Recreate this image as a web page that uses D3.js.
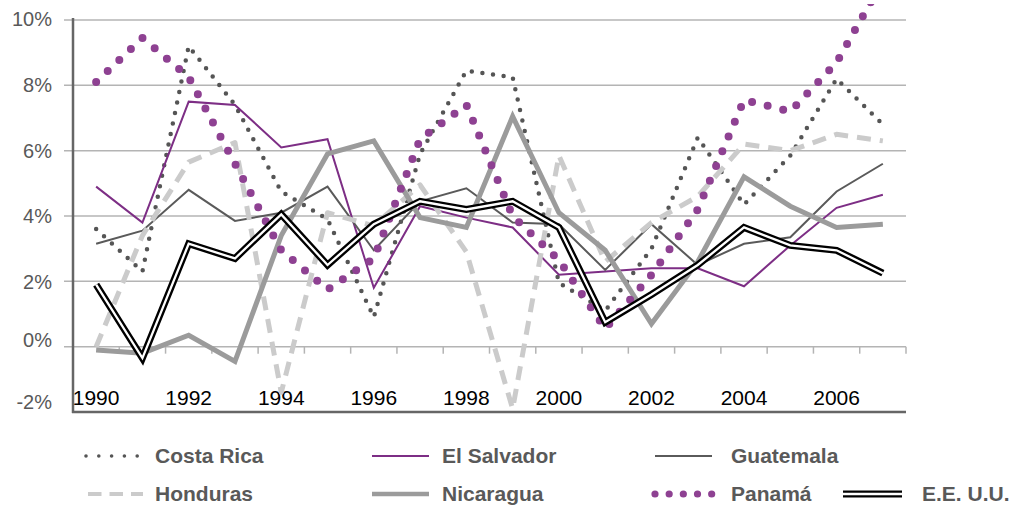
<!DOCTYPE html>
<html>
<head>
<meta charset="utf-8">
<script src="https://cdn.jsdelivr.net/npm/d3@7"></script>
<style>
  html, body { margin: 0; padding: 0; background: #fff; }
  svg { display: block; font-family: "Liberation Sans", Arial, sans-serif; }
</style>
</head>
<body>
<svg id="chart" width="1012" height="506"></svg>
<script>
// ---- data ----
const years = [1990,1991,1992,1993,1994,1995,1996,1997,1998,1999,2000,2001,2002,2003,2004,2005,2006,2007];
const yearLabels = [1990,1992,1994,1996,1998,2000,2002,2004,2006];
const yTicks = [-2,0,2,4,6,8,10];

const costaRica  = [3.6,2.3,9.2,7.4,4.75,3.9,0.9,5.9,8.45,8.25,1.95,1.1,3.0,6.4,4.35,5.85,8.2,6.8];
const elSalvador = [4.9,3.8,7.5,7.4,6.1,6.35,1.8,4.3,3.95,3.65,2.2,2.3,2.4,2.4,1.85,3.1,4.25,4.65];
const guatemala  = [3.15,3.55,4.8,3.85,4.1,4.9,2.95,4.45,4.85,3.8,3.75,2.35,3.75,2.5,3.15,3.35,4.75,5.6];
const honduras   = [0.0,3.4,5.65,6.25,-1.4,4.1,3.7,4.95,2.9,-1.9,5.85,2.6,3.8,4.6,6.2,6.0,6.5,6.3];
const nicaragua  = [-0.1,-0.2,0.35,-0.45,3.4,5.9,6.3,3.95,3.65,7.05,4.1,2.95,0.7,2.6,5.2,4.3,3.65,3.75];
const panama     = [8.1,9.45,8.25,5.6,2.95,1.75,2.7,6.35,7.4,4.0,2.65,0.55,2.2,4.2,7.55,7.2,8.7,11.2];
const eeuu       = [1.9,-0.35,3.15,2.7,4.05,2.5,3.75,4.45,4.2,4.45,3.65,0.75,1.6,2.5,3.65,3.1,2.95,2.25];

const seriesNames = ["Costa Rica","El Salvador","Guatemala","Honduras","Nicaragua","Panamá","E.E. U.U."];
const seriesValues = [costaRica, elSalvador, guatemala, honduras, nicaragua, panama, eeuu];

// ---- styles ----
const styles = {
  "Costa Rica":  {color:"#555555", width:4.5, dash:"0 10.7", cap:"round", legendWidth:3.6},
  "El Salvador": {color:"#7d2e85", width:2,   dash:null, cap:"butt", legendWidth:2},
  "Guatemala":   {color:"#5a5a5a", width:2,   dash:null, cap:"butt", legendWidth:2},
  "Honduras":    {color:"#cbcbcb", width:5,   dash:"14 9", cap:"butt", legendWidth:4},
  "Nicaragua":   {color:"#9b9b9b", width:5,   dash:null, cap:"butt", legendWidth:4.5},
  "Panamá":      {color:"#8e4192", width:8,   dash:"0 16", cap:"round", legendWidth:7.2},
  "E.E. U.U.":   {color:"#000000", width:7,   dash:null, cap:"butt", legendWidth:7, double:true}
};
const legendDash = {"Costa Rica":"0 12.8", "Honduras":"13.5 8", "Panamá":"0 14.17"};
const legendLayout = {
  "Costa Rica":  {x1:86,  x2:150, tx:155, y:456},
  "El Salvador": {x1:372, x2:429, tx:442, y:456},
  "Guatemala":   {x1:655, x2:712, tx:731, y:456},
  "Honduras":    {x1:88,  x2:143, tx:155, y:494},
  "Nicaragua":   {x1:372, x2:429, tx:442, y:494},
  "Panamá":      {x1:655, x2:711.7, tx:731, y:494},
  "E.E. U.U.":   {x1:843, x2:902, tx:922, y:494}
};

// ---- scales ----
const L = 73, R = 906, T = 20, B = 412;
const svg = d3.select("#chart");
const x = d3.scaleBand().domain(years).range([L, R]).padding(0);
const y = d3.scaleLinear().domain([-2, 10]).range([B, T]);
const yLab = d3.scaleLinear().domain([-2, 0, 2, 10]).range([402, 340, 282, 19]);
const cx = d => x(d) + x.bandwidth() / 2;

// gridlines
svg.append("g").selectAll("line").data(yTicks.filter(v => v > -2)).join("line")
  .attr("x1", 64).attr("x2", R)
  .attr("y1", d => y(d)).attr("y2", d => y(d))
  .attr("stroke", "#b4b4b4").attr("stroke-width", 1.5);

// category ticks on the 0% line
svg.append("g").selectAll("line").data(years).join("line")
  .attr("x1", d => x(d) + x.bandwidth()).attr("x2", d => x(d) + x.bandwidth())
  .attr("y1", y(0)).attr("y2", y(0) + 7)
  .attr("stroke", "#b4b4b4").attr("stroke-width", 1.5);

// axes frame
svg.append("line").attr("x1", L).attr("x2", L).attr("y1", T - 2).attr("y2", B + 1)
  .attr("stroke", "#666").attr("stroke-width", 2.5);
svg.append("line").attr("x1", L - 1).attr("x2", R).attr("y1", B).attr("y2", B)
  .attr("stroke", "#666").attr("stroke-width", 2.5);

// y labels
svg.append("g").selectAll("text").data(yTicks).join("text")
  .attr("x", 52).attr("y", d => yLab(d)).attr("dy", "0.35em")
  .attr("text-anchor", "end").attr("font-size", 20).attr("fill", "#595959")
  .text(d => d + "%");

// x labels
svg.append("g").selectAll("text").data(yearLabels).join("text")
  .attr("x", d => cx(d)).attr("y", 405)
  .attr("text-anchor", "middle").attr("font-size", 21).attr("fill", "#000")
  .text(d => d);

// clip
svg.append("clipPath").attr("id", "plotclip").append("rect")
  .attr("x", L).attr("y", 4).attr("width", R - L).attr("height", B - 4);

const line = d3.line().x((d, i) => cx(years[i])).y(d => y(d));
const gLines = svg.append("g").attr("clip-path", "url(#plotclip)");

seriesNames.forEach((name, k) => {
  const s = styles[name];
  const p = gLines.append("path").datum(seriesValues[k])
    .attr("d", line).attr("fill", "none")
    .attr("stroke", s.color).attr("stroke-width", s.width)
    .attr("stroke-linecap", s.cap).attr("stroke-linejoin", s.dash ? "round" : "miter");
  if (s.dash) p.attr("stroke-dasharray", s.dash);
  if (s.double) {
    gLines.append("path").datum(seriesValues[k])
      .attr("d", line).attr("fill", "none")
      .attr("stroke", "#fff").attr("stroke-width", 2.3).attr("stroke-linejoin", "miter");
  }
});

// legend
const gLeg = svg.append("g");
seriesNames.forEach(name => {
  const s = styles[name], l = legendLayout[name];
  const ln = gLeg.append("line").attr("x1", l.x1).attr("x2", l.x2).attr("y1", l.y).attr("y2", l.y)
    .attr("stroke", s.color).attr("stroke-width", s.legendWidth)
    .attr("stroke-linecap", s.cap);
  if (legendDash[name]) ln.attr("stroke-dasharray", legendDash[name]);
  if (s.double) {
    gLeg.append("line").attr("x1", l.x1).attr("x2", l.x2).attr("y1", l.y).attr("y2", l.y)
      .attr("stroke", "#fff").attr("stroke-width", 2.3);
  }
  gLeg.append("text").attr("x", l.tx).attr("y", l.y).attr("dy", "0.35em")
    .attr("font-size", 21).attr("font-weight", "bold").attr("fill", "#595959")
    .text(name);
});
</script>
</body>
</html>
